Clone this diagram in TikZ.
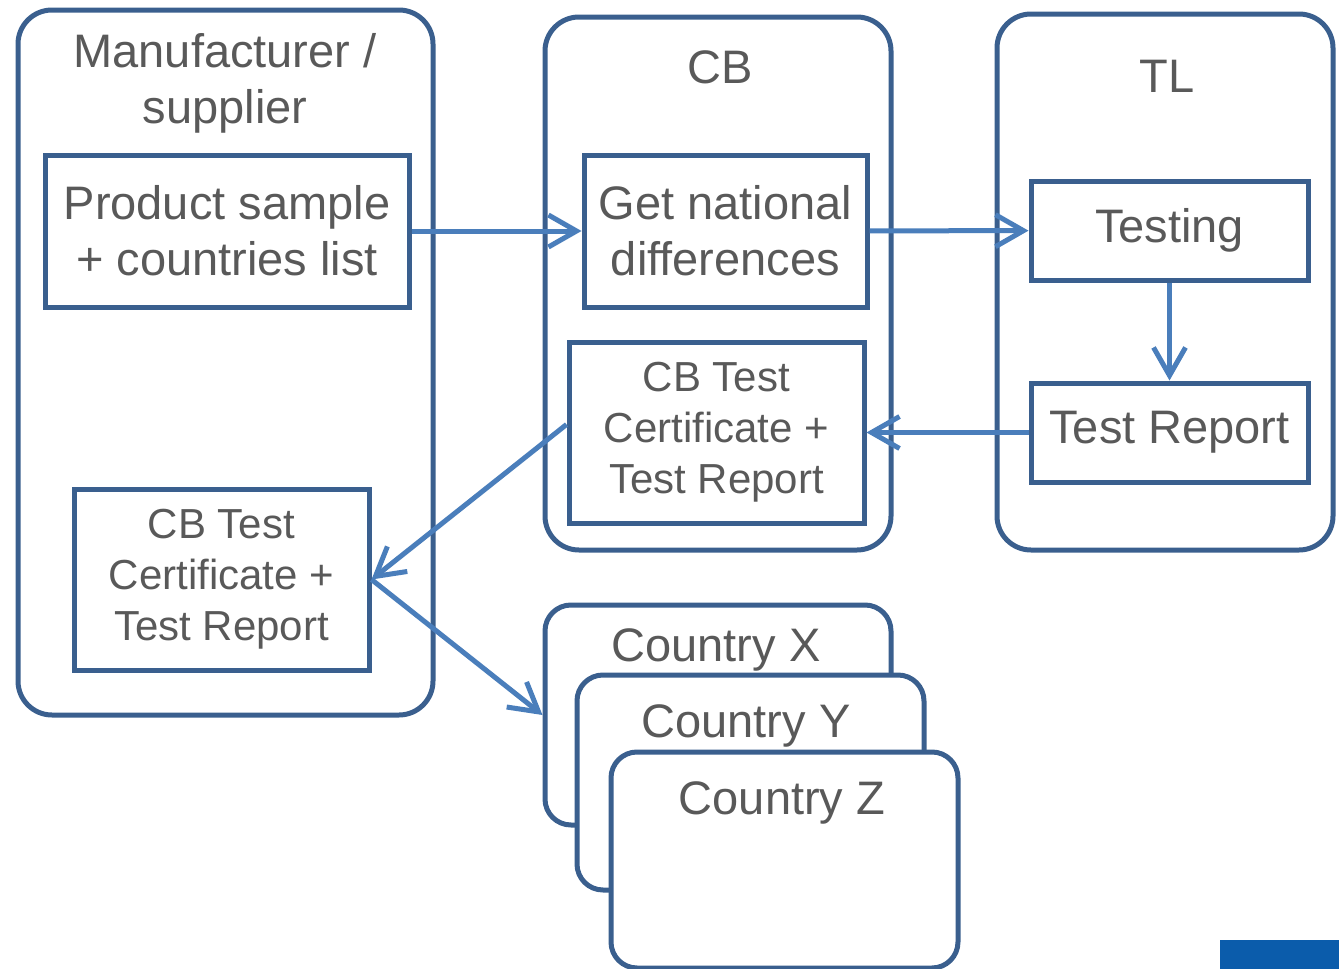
\documentclass[tikz,border=0pt]{standalone}
\usepackage{fontspec}
\setmainfont{Liberation Sans}
\usetikzlibrary{arrows.meta}
\usetikzlibrary{positioning}
\definecolor{boxblue}{HTML}{3A5F8E}
\definecolor{flowblue}{HTML}{4A7EBB}
\definecolor{textgray}{HTML}{595959}
\definecolor{logoblue}{HTML}{0B5CAB}
\tikzset {
  % outer column for each party
  group box/.style = {
    draw = boxblue,
    line width = 2.5pt,
    rounded corners = 17pt,
    rectangle
  },
  group title/.style = {
    text = textgray,
    align = center,
    font = \fontsize{23.5}{28}\selectfont
  },
  % plain process box
  task box/.style = {
    draw = boxblue,
    line width = 2.5pt,
    rectangle,
    text = textgray,
    align = center,
    inner sep = 0,
    font = \fontsize{23.5}{28}\selectfont
  },
  small task/.style = {
    task box,
    font = \fontsize{21}{25.5}\selectfont
  },
  % stacked country cards
  country box/.style = {
    draw = boxblue,
    fill = white,
    line width = 2.5pt,
    rounded corners = 13pt,
    rectangle
  }
}
\tikzset {
  flow/.style = {
    draw = flowblue,
    line width = 2.5pt,
    -{Straight Barb[length=14pt,width=16pt,line width=2.5pt]}
  }
}

\begin{document}
\begin{tikzpicture}[x=0.5pt, y=-0.5pt]
    \useasboundingbox (0,0) rectangle (1339,969);

    % columns
    \node[group box, minimum width=207.5pt, minimum height=352.5pt] (maker) at (225.5,362.5) {};
    \node[group box, minimum width=173pt, minimum height=266.5pt] (cb) at (718,283.5) {};
    \node[group box, minimum width=168pt, minimum height=268pt] (tl) at (1165,282) {};
    \node[group title] (maker-title) at (225,83) {Manufacturer /\\supplier};
    \node[group title] (cb-title) at (720,67) {CB};
    \node[group title] (tl-title) at (1167,76) {TL};

    % boxes inside the columns
    \node[task box, minimum width=182pt, minimum height=76pt] (sample) at (227,231) {Product sample\\+ countries list};
    \node[small task, minimum width=147.5pt, minimum height=90.5pt] (cert-out) at (221.5,579.5) {CB Test\\Certificate +\\Test Report};
    \node[task box, minimum width=141.5pt, minimum height=76pt] (national) at (725.5,231) {Get national\\differences};
    \node[small task, minimum width=147.5pt, minimum height=90.5pt] (cert) at (716.5,432.5) {CB Test\\Certificate +\\Test Report};
    \node[task box, minimum width=138.5pt, minimum height=49.5pt] (testing) at (1169.5,230.5) {Testing};
    \node[task box, minimum width=138.5pt, minimum height=49.5pt] (report) at (1169.5,432.5) {Test Report};

    % countries
    \node[country box, minimum width=173pt, minimum height=110pt] (cx) at (718,715) {};
    \node[group title] (cx-label) at (716,650) {Country X};
    \node[country box, minimum width=173.5pt, minimum height=107.5pt] (cy) at (750.5,782.5) {};
    \node[group title] (cy-label) at (746,726) {Country Y};
    \node[country box, minimum width=173.5pt, minimum height=108pt] (cz) at (784.5,860) {};
    \node[group title] (cz-label) at (782,803) {Country Z};

    % flows
    \draw[flow] (sample) -- (national);
    \draw[flow] (national) -- (testing);
    \draw[flow] (testing) -- (report);
    \draw[flow] (report) -- (cert);
    \draw[flow] ([yshift=4pt]cert.west) -- (cert-out.east);
    \draw[flow] (cert-out.east) -- (cx.west);

    % logo corner
    \fill[logoblue] (1220,940) rectangle (1339,969);
  \end{tikzpicture}
\end{document}
